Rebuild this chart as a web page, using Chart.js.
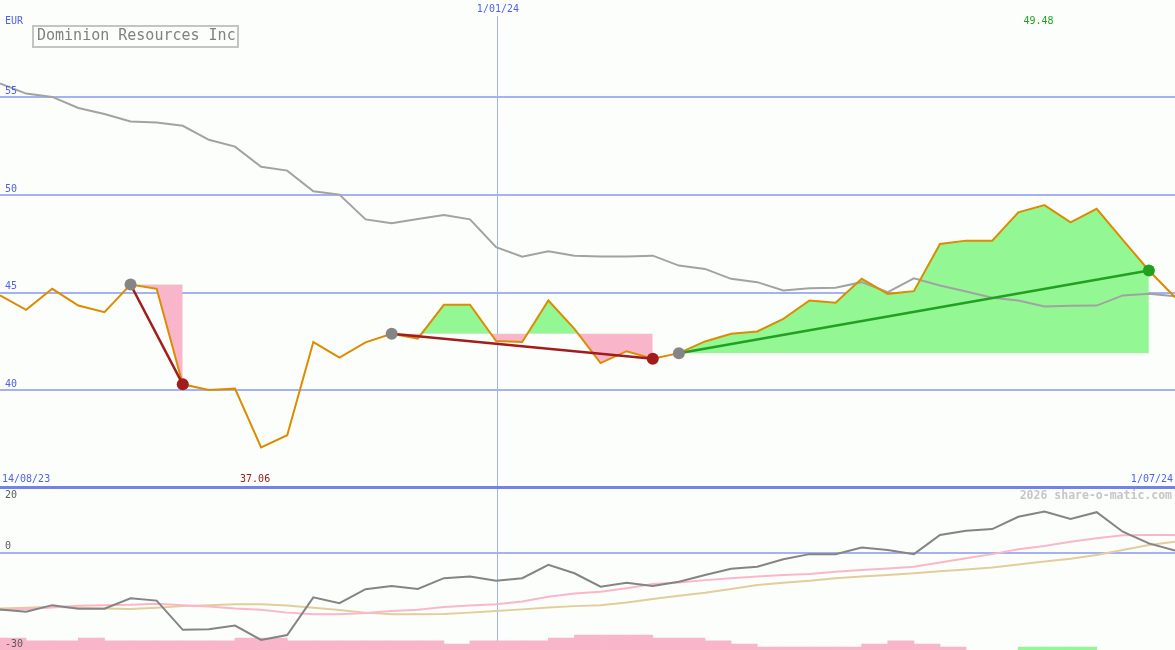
<!DOCTYPE html>
<html lang="en">
<head>
    <meta charset="UTF-8">
    <meta name="viewport" content="width=device-width, initial-scale=1.0">
    <title>Dominion Resources Inc</title>
    <script src="https://cdn.jsdelivr.net/npm/chart.js"></script>
    <style>
        * {
            margin: 0;
            padding: 0;
            box-sizing: border-box;
        }
        body {
            background-color: #fbfefb;
            width: 1175px;
            height: 650px;
            overflow: hidden;
        }
        .chart-container {
            position: relative;
            width: 1175px;
            height: 650px;
        }
    </style>
</head>
<body>

    <div class="chart-container">
        <canvas id="dominion-chart"></canvas>
    </div>

    <script>
        // weekly closes (EUR), one point per week, 14/08/23 -> 1/07/24
        const price = [44.85, 44.11, 45.19, 44.33, 43.99, 45.41, 45.19, 40.29, 40.0, 40.07,
                       37.06, 37.68, 42.46, 41.66, 42.44, 42.88, 42.63, 44.37, 44.37, 42.51,
                       42.46, 44.59, 43.14, 41.38, 41.99, 41.6, 41.89, 42.49, 42.88, 43.0,
                       43.65, 44.59, 44.47, 45.7, 44.93, 45.07, 47.49, 47.66, 47.66, 49.11,
                       49.48, 48.6, 49.29, 47.7, 46.13, 44.76];
        // long moving average (grey)
        const avgLine = [55.72, 55.2, 55.03, 54.46, 54.15, 53.77, 53.72, 53.55, 52.83, 52.48,
                         51.45, 51.25, 50.19, 50.02, 48.75, 48.55, 48.77, 48.98, 48.75, 47.32,
                         46.84, 47.11, 46.89, 46.84, 46.84, 46.89, 46.38, 46.21, 45.7, 45.53,
                         45.1, 45.22, 45.24, 45.53, 45.02, 45.73, 45.36, 45.05, 44.73, 44.59,
                         44.28, 44.32, 44.33, 44.85, 44.93, 44.81];
        // lower panel
        const momentum = [-17.5, -18.2, -16.2, -17.3, -17.3, -14.1, -14.8, -23.8, -23.6, -22.5,
                          -26.9, -25.4, -13.8, -15.6, -11.3, -10.3, -11.2, -7.9, -7.4, -8.7,
                          -7.9, -3.8, -6.4, -10.5, -9.3, -10.3, -9.0, -6.9, -5.0, -4.4,
                          -2.1, -0.5, -0.5, 1.5, 0.8, -0.5, 5.4, 6.7, 7.2, 11.0,
                          12.6, 10.3, 12.4, 6.4, 2.8, 0.6];
        const signalFast = [-17.7, -17.4, -16.9, -16.4, -16.2, -16.1, -15.8, -16.2, -16.6, -17.2,
                            -17.6, -18.5, -19.0, -19.0, -18.6, -18.0, -17.6, -16.8, -16.3, -15.9,
                            -15.1, -13.6, -12.6, -12.1, -11.0, -9.7, -9.2, -8.5, -7.9, -7.4,
                            -6.9, -6.6, -5.9, -5.4, -4.9, -4.4, -3.1, -1.8, -0.5, 1.0,
                            2.0, 3.3, 4.4, 5.3, 5.4, 5.4];
        const signalSlow = [-17.2, -17.0, -16.7, -17.0, -17.2, -17.4, -17.0, -16.5, -16.2, -15.9,
                            -15.9, -16.3, -17.0, -17.7, -18.5, -19.0, -19.0, -18.9, -18.5, -18.0,
                            -17.5, -16.9, -16.5, -16.2, -15.4, -14.3, -13.3, -12.4, -11.2, -10.0,
                            -9.3, -8.7, -7.9, -7.4, -6.9, -6.4, -5.8, -5.2, -4.6, -3.7,
                            -2.8, -1.9, -0.8, 0.8, 2.3, 3.3];
        // histogram per week interval: negative = pink, positive = green
        const histo = [-3.7, -2.8, -2.8, -3.7, -2.8, -2.8, -2.8, -2.8, -2.8, -3.7,
                       -3.7, -2.8, -2.8, -2.8, -2.8, -2.8, -2.8, -1.8, -2.8, -2.8,
                       -2.8, -3.7, -4.6, -4.6, -4.6, -3.7, -3.7, -2.8, -1.8, -0.9,
                       -0.9, -0.9, -0.9, -1.8, -2.8, -1.8, -0.9, 0, 0, 0.9,
                       0.9, 0.9, 0, 0, 0];
        // trend segments (week index)
        const trendFrom = [5, 15, 26];
        const trendTo = [7, 25, 44];

        const priceTicks = [55, 50, 45, 40];
        const oscTicks = [20, 0, -30];
        const dateLabels = ['14/08/23', '1/01/24', '1/07/24'];
        const datePos = [0, 19.07, 45];

        const blueText = '#5060f0';
        const gridBlue = '#a4b2f2';
        const divider = '#7282ea';
        const fillGreen = '#93f893';
        const fillPink = '#f9b5ca';
        const trendRed = '#a21c1c';
        const trendGreen = '#22a022';
        const mono = '"DejaVu Sans Mono", monospace';

        const toPoints = (arr) => arr.map((v, i) => ({ x: i, y: v }));
        const minIdx = price.indexOf(Math.min(...price));
        const maxIdx = price.indexOf(Math.max(...price));

        const fillSets = trendFrom.map((s, k) => ({
            type: 'line',
            yAxisID: 'y',
            data: toPoints(price).slice(s, trendTo[k] + 1),
            borderColor: 'rgba(0,0,0,0)',
            borderWidth: 0,
            pointRadius: 0,
            order: 10,
            fill: { target: { value: price[s] }, above: fillGreen, below: fillPink }
        }));

        const trendSets = trendFrom.map((s, k) => {
            const e = trendTo[k];
            const up = price[e] > price[s];
            return {
                type: 'line',
                yAxisID: 'y',
                data: [{ x: s, y: price[s] }, { x: e, y: price[e] }],
                borderColor: up ? trendGreen : trendRed,
                borderWidth: 2.5,
                pointRadius: 6,
                pointBorderWidth: 0,
                pointBackgroundColor: ['#858585', up ? trendGreen : trendRed],
                fill: false,
                order: 2
            };
        });

        const histoBars = histo
            .map((h, i) => ({ x: i + 0.5, y: [-30, -30 + Math.abs(h)], h: h }))
            .filter(p => p.h !== 0);

        const textPlugin = {
            id: 'chartTexts',
            afterDraw(chart) {
                const { ctx, scales: { x, y, y2 } } = chart;
                ctx.save();
                ctx.textBaseline = 'middle';

                // title box
                ctx.strokeStyle = '#c4c4c4';
                ctx.lineWidth = 2;
                ctx.strokeRect(33, 26, 205, 21);
                ctx.font = '15px ' + mono;
                ctx.fillStyle = '#808080';
                ctx.textAlign = 'left';
                ctx.fillText('Dominion Resources Inc', 37, 36.5);

                ctx.font = '10px ' + mono;
                ctx.fillStyle = blueText;
                ctx.fillText('EUR', 5, 21);
                priceTicks.forEach(v => ctx.fillText(String(v), 5, y.getPixelForValue(v) - 6));

                // dates
                const xMid = x.getPixelForValue(datePos[1]);
                ctx.fillStyle = '#fbfefb';
                ctx.fillRect(xMid - 3, 0, 6, 16);
                ctx.fillStyle = blueText;
                ctx.fillText(dateLabels[0], 2, y.bottom - 8.5);
                ctx.textAlign = 'center';
                ctx.fillText(dateLabels[1], xMid, 9);
                ctx.textAlign = 'right';
                ctx.fillText(dateLabels[2], chart.chartArea.right - 2, y.bottom - 8.5);

                // min / max
                ctx.textAlign = 'center';
                ctx.fillStyle = trendRed;
                ctx.fillText(price[minIdx].toFixed(2), x.getPixelForValue(minIdx) - 6, y.bottom - 8.5);
                ctx.fillStyle = trendGreen;
                ctx.fillText(price[maxIdx].toFixed(2), x.getPixelForValue(maxIdx) - 6, 21);

                // lower panel labels
                ctx.textAlign = 'left';
                ctx.fillStyle = '#5a5a5a';
                oscTicks.forEach(v => {
                    const py = Math.max(y2.getPixelForValue(v) - 6, y2.top + 8);
                    ctx.fillText(String(v), 5, py);
                });

                ctx.textAlign = 'right';
                ctx.font = 'bold 11.5px ' + mono;
                ctx.fillStyle = '#c6c6c6';
                ctx.fillText('2026 share-o-matic.com', chart.chartArea.right - 3, y2.top + 8.5);
                ctx.restore();
            }
        };

        const chartConfig = {
            type: 'line',
            data: {
                datasets: [
                    ...fillSets,
                    {
                        type: 'bar',
                        yAxisID: 'y2',
                        data: histoBars,
                        backgroundColor: (c) => (c.raw && c.raw.h > 0 ? fillGreen : fillPink),
                        borderWidth: 0,
                        barPercentage: 1,
                        categoryPercentage: 1,
                        order: 9
                    },
                    {
                        yAxisID: 'y',
                        data: toPoints(avgLine),
                        borderColor: '#a2a2a2',
                        borderWidth: 2,
                        pointRadius: 0,
                        order: 8
                    },
                    {
                        yAxisID: 'y2',
                        data: toPoints(signalSlow),
                        borderColor: '#e4cd9c',
                        borderWidth: 2,
                        pointRadius: 0,
                        order: 7
                    },
                    {
                        yAxisID: 'y2',
                        data: toPoints(signalFast),
                        borderColor: '#fbb6ca',
                        borderWidth: 2,
                        pointRadius: 0,
                        order: 6
                    },
                    {
                        yAxisID: 'y2',
                        data: toPoints(momentum),
                        borderColor: '#848484',
                        borderWidth: 2,
                        pointRadius: 0,
                        order: 5
                    },
                    {
                        yAxisID: 'y',
                        data: toPoints(price),
                        borderColor: '#dc8c00',
                        borderWidth: 2,
                        pointRadius: 0,
                        order: 4
                    },
                    ...trendSets
                ]
            },
            options: {
                animation: false,
                responsive: true,
                maintainAspectRatio: false,
                layout: { padding: 0, autoPadding: false },
                plugins: {
                    legend: { display: false },
                    tooltip: { enabled: false }
                },
                scales: {
                    x: {
                        type: 'linear',
                        min: 0,
                        max: 45,
                        offset: false,
                        afterBuildTicks: (s) => { s.ticks = [{ value: datePos[1] }]; },
                        ticks: { display: false },
                        grid: { color: gridBlue, lineWidth: 1, drawTicks: false, offset: false },
                        border: { display: false }
                    },
                    y: {
                        type: 'linear',
                        position: 'left',
                        stack: 'panels',
                        stackWeight: 487.5,
                        weight: 2,
                        min: 35,
                        max: 60,
                        afterBuildTicks: (s) => { s.ticks = [35, ...priceTicks].map(v => ({ value: v })); },
                        ticks: { display: false },
                        grid: {
                            drawTicks: false,
                            color: (c) => (c.tick && c.tick.value === 35 ? divider : gridBlue),
                            lineWidth: (c) => (c.tick && c.tick.value === 35 ? 3 : 2)
                        },
                        border: { display: false }
                    },
                    y2: {
                        type: 'linear',
                        position: 'left',
                        stack: 'panels',
                        stackWeight: 162.5,
                        weight: 1,
                        min: -30,
                        max: 20,
                        afterBuildTicks: (s) => { s.ticks = oscTicks.map(v => ({ value: v })); },
                        ticks: { display: false },
                        grid: {
                            drawTicks: false,
                            color: (c) => (c.tick && c.tick.value === 0 ? gridBlue : 'rgba(0,0,0,0)'),
                            lineWidth: 2
                        },
                        border: { display: false }
                    }
                }
            },
            plugins: [textPlugin]
        };

        const ctx = document.getElementById('dominion-chart').getContext('2d');
        new Chart(ctx, chartConfig);
    </script>

</body>
</html>
